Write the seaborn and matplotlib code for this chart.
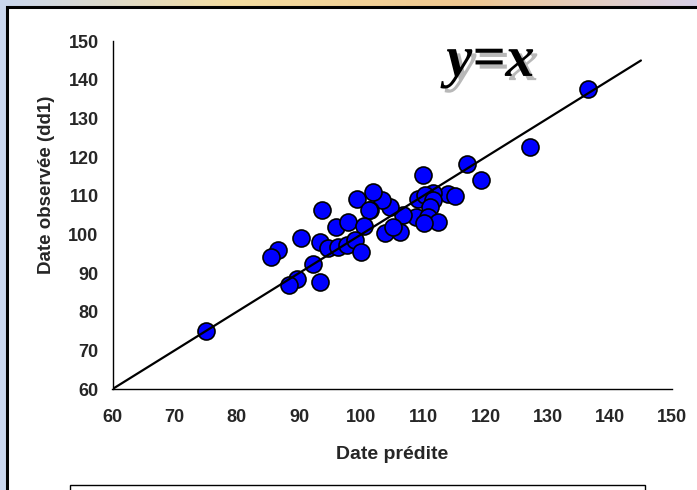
import numpy as np
import pandas as pd
import matplotlib
matplotlib.use('Agg')
import matplotlib.pyplot as plt
import matplotlib.patheffects as pe
from matplotlib.patches import Rectangle
import seaborn as sns

date_predite = [75.0, 136.5, 127.2, 117.0, 119.3, 109.9, 114.0, 115.1, 111.5, 109.1,
                110.3, 111.5, 111.1, 108.9, 110.7, 112.3, 110.1, 106.8, 106.3, 103.9,
                105.2, 104.7, 103.4, 101.9, 101.4, 93.7, 99.3, 101.3, 96.0, 97.9,
                100.4, 90.3, 93.4, 94.7, 96.3, 97.7, 99.0, 100.0, 86.6, 85.5,
                92.3, 89.7, 88.4, 93.4]
date_observee = [75.0, 137.5, 122.6, 118.2, 114.0, 115.3, 110.4, 109.9, 110.7, 109.1,
                 110.2, 108.9, 107.0, 104.5, 104.5, 103.2, 103.0, 105.0, 100.6, 100.3,
                 101.9, 107.0, 108.9, 111.0, 106.3, 106.3, 109.1, 106.3, 101.9, 103.2,
                 102.2, 99.0, 98.0, 96.5, 96.7, 97.2, 98.5, 95.4, 96.0, 94.1,
                 92.3, 88.4, 86.9, 87.7]
ligne_x = [60, 145]
ticks = [60, 70, 80, 90, 100, 110, 120, 130, 140, 150]

df = pd.DataFrame({'pred': date_predite, 'obs': date_observee})
df_line = pd.DataFrame({'x': ligne_x, 'y': ligne_x})

sns.set_style('white')
plt.rcParams['font.family'] = ['Liberation Sans', 'DejaVu Sans']

fig = plt.figure(figsize=(6.97, 4.9), dpi=100)

# slide background + white chart area
bg = fig.add_axes([0, 0, 1, 1], zorder=-10)
grad = np.linspace(0, 1, 256).reshape(1, -1)
bg.imshow(grad, aspect='auto', cmap=matplotlib.colors.LinearSegmentedColormap.from_list(
    'bg', ['#c9d6ee', '#f3dca0', '#f0c890', '#d8d0e6']), extent=[0, 1, 0, 1])
bg.set_axis_off()
fig.patches.append(Rectangle((0.0095, -0.05), 1.1, 1.036, transform=fig.transFigure,
                             facecolor='white', edgecolor='black', lw=2.2, zorder=-5))
# empty legend box at the bottom
fig.patches.append(Rectangle((70 / 697, -0.05), 575 / 697, 0.0602, transform=fig.transFigure,
                             facecolor='white', edgecolor='black', lw=1.0, zorder=-4))

ax = fig.add_axes([112.5 / 697, 0.206, (672 - 112.5) / 697, 0.71])
ax.patch.set_alpha(0)
sns.scatterplot(data=df, x='pred', y='obs', ax=ax, s=150, color='#0000ff',
                edgecolor='black', linewidth=1.2, zorder=3, clip_on=False)
sns.lineplot(data=df_line, x='x', y='y', ax=ax, color='black', lw=1.6, zorder=4)

ax.set_xlim(60, 150)
ax.set_ylim(60, 150)
ax.set_xticks(ticks)
ax.set_yticks(ticks)
ax.tick_params(direction='out', length=4, width=0.8, color='#555555', labelsize=13)
ax.tick_params(axis='x', pad=10.5)
ax.tick_params(axis='y', pad=6)
for lab in ax.get_xticklabels() + ax.get_yticklabels():
    lab.set_fontweight('bold')
for s in ['top', 'right']:
    ax.spines[s].set_visible(False)
for s in ['left', 'bottom']:
    ax.spines[s].set_color('black')
    ax.spines[s].set_linewidth(1.0)
ax.set_xlabel('Date prédite', fontsize=14, fontweight='bold', labelpad=14)
ax.set_ylabel('Date observée (dd1)', fontsize=13.5, fontweight='bold')
ax.yaxis.set_label_coords(-0.102, 0.586)

ax.text(120.8, 141, 'y=x', family='Liberation Serif', style='italic', fontweight='bold',
        fontsize=42, ha='center', va='baseline', color='black',
        path_effects=[pe.withSimplePatchShadow(offset=(3, -3), shadow_rgbFace='#b8b8b8', alpha=1)])

fig.savefig('out.png', dpi=100)
